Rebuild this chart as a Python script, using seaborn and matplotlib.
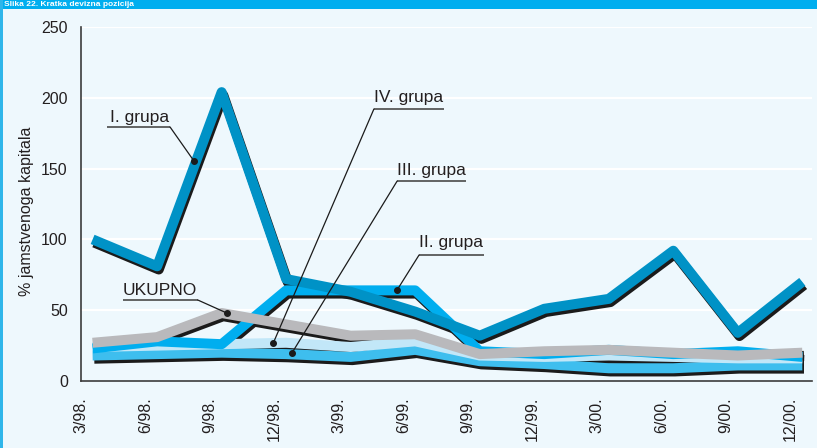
import numpy as np
import pandas as pd
import matplotlib
matplotlib.use("Agg")
import matplotlib.pyplot as plt
import matplotlib.patheffects as pe
from matplotlib.patches import Rectangle
import seaborn as sns

# ---------------- data ----------------
quarters = ['3/98.', '6/98.', '9/98.', '12/98.', '3/99.', '6/99.', '9/99.',
            '12/99.', '3/00.', '6/00.', '9/00.', '12/00.']
grupa_1 = [100, 81, 204, 72, 63, 49, 32, 51, 58, 92, 34, 70]
grupa_2 = [23, 28, 26, 64, 64, 64, 21, 19, 22, 19, 21, 17]
grupa_3 = [18, 19, 20, 19, 17, 22, 14, 12, 9, 9, 11, 11]
grupa_4 = [24, 25, 26, 27, 24, 28, 18, 17, 18, 17, 16, 16]
ukupno = [27, 31, 48, 40, 32, 33, 19, 21, 22, 20, 18, 20]
yticks = [0, 50, 100, 150, 200, 250]
ylabel = '% jamstvenoga kapitala'
title = 'Slika 22. Kratka devizna pozicija'

series_names = ['III. grupa', 'IV. grupa', 'II. grupa', 'UKUPNO', 'I. grupa']
series_vals = [grupa_3, grupa_4, grupa_2, ukupno, grupa_1]
colors = {'I. grupa': '#0092C6', 'II. grupa': '#00AEEF', 'III. grupa': '#3EBEEE',
          'IV. grupa': '#C2E7F8', 'UKUPNO': '#B9B9BC'}

# ---------------- figure ----------------
sns.set_style('white')
plt.rcParams['font.family'] = ['Liberation Sans', 'DejaVu Sans']

W, H = 817, 448
fig = plt.figure(figsize=(W / 100, H / 100), dpi=100)
bg = '#EEF8FD'
fig.patch.set_facecolor(bg)

ax = fig.add_axes([81 / W, 1 - 381 / H, (812 - 81) / W, (381 - 27) / H])
ax.set_facecolor(bg)

offset = 0.18
x = np.arange(len(quarters)) + offset
rows = []
for name, vals in zip(series_names, series_vals):
    for xi, v in zip(x, vals):
        rows.append({'x': xi, 'value': v, 'series': name})
df = pd.DataFrame(rows)

shadow_only = [pe.SimpleLineShadow(offset=(1.2, -2.3), shadow_color='#1b1b1b', alpha=1.0)]
for z, name in enumerate(series_names):
    sub = df[df['series'] == name]
    # shadow underneath all coloured bands
    sns.lineplot(data=sub, x='x', y='value', ax=ax, color=colors[name], lw=7.2,
                 solid_joinstyle='round', solid_capstyle='butt',
                 path_effects=shadow_only, zorder=2, legend=False, sort=False)
    sns.lineplot(data=sub, x='x', y='value', ax=ax, color=colors[name], lw=7.2,
                 solid_joinstyle='round', solid_capstyle='butt',
                 zorder=3 + z, legend=False, sort=False)

ax.set_xlim(0, 11.33)
ax.set_ylim(0, 250)
ax.set_xticks(np.arange(len(quarters)))
ax.set_xticklabels(quarters, rotation=90, fontsize=11.5, color='#231f20')
ax.set_yticks(yticks)
ax.set_yticklabels([str(t) for t in yticks], fontsize=11.5, color='#231f20')
ax.set_xlabel('')
ax.set_ylabel('')

for t in yticks[1:]:
    ax.axhline(t, color='white', lw=1.6, zorder=1)

for s in ['top', 'right']:
    ax.spines[s].set_visible(False)
for s in ['left', 'bottom']:
    ax.spines[s].set_color('#3c3c3c')
    ax.spines[s].set_linewidth(1.2)
ax.tick_params(axis='both', direction='out', length=4.5, width=1.1, color='#3c3c3c')
ax.tick_params(axis='x', pad=7)
ax.tick_params(axis='y', pad=5)

fig.text(27 / W, 1 - 211 / H, ylabel, rotation=90, ha='center', va='center',
         fontsize=11.5, color='#231f20')

# ---------------- annotations ----------------
def annotate(label, tx, ty, ux0, ux1, uy, lx, dot):
    ax.text(tx, ty, label, fontsize=12.5, color='#231f20', ha='left', va='center', zorder=20)
    ax.plot([ux0, ux1], [uy, uy], color='#4a4a4a', lw=1.2, zorder=20, solid_capstyle='butt')
    ax.plot([lx, dot[0]], [uy, dot[1]], color='#1b1b1b', lw=0.9, zorder=20)
    ax.plot([dot[0]], [dot[1]], 'o', color='#1b1b1b', ms=4, zorder=21)

annotate('I. grupa', 0.45, 186.4, 0.40, 1.38, 179.4, 1.38, (1.75, 155.4))
annotate('UKUPNO', 0.65, 63.6, 0.65, 1.81, 57.2, 1.81, (2.26, 48.0))
annotate('IV. grupa', 4.54, 199.9, 4.54, 5.63, 192.1, 4.54, (2.98, 26.8))
annotate('III. grupa', 4.90, 149.0, 4.90, 5.97, 141.2, 4.90, (3.27, 19.8))
annotate('II. grupa', 5.24, 97.5, 5.24, 6.25, 89.0, 5.24, (4.90, 64.3))

# ---------------- frame / header ----------------
fig.patches.append(Rectangle((0, 1 - 9 / H), 1, 9 / H, transform=fig.transFigure,
                             facecolor='#00AEEF', edgecolor='none', zorder=0))
fig.patches.append(Rectangle((0, 0), 2.5 / W, 1, transform=fig.transFigure,
                             facecolor='#2FB6EA', edgecolor='none', zorder=0))
fig.text(4 / W, 1 - 4.5 / H, title, ha='left', va='center', fontsize=6,
         fontweight='bold', color='white')

fig.savefig('out.png', dpi=100, facecolor=fig.get_facecolor())
